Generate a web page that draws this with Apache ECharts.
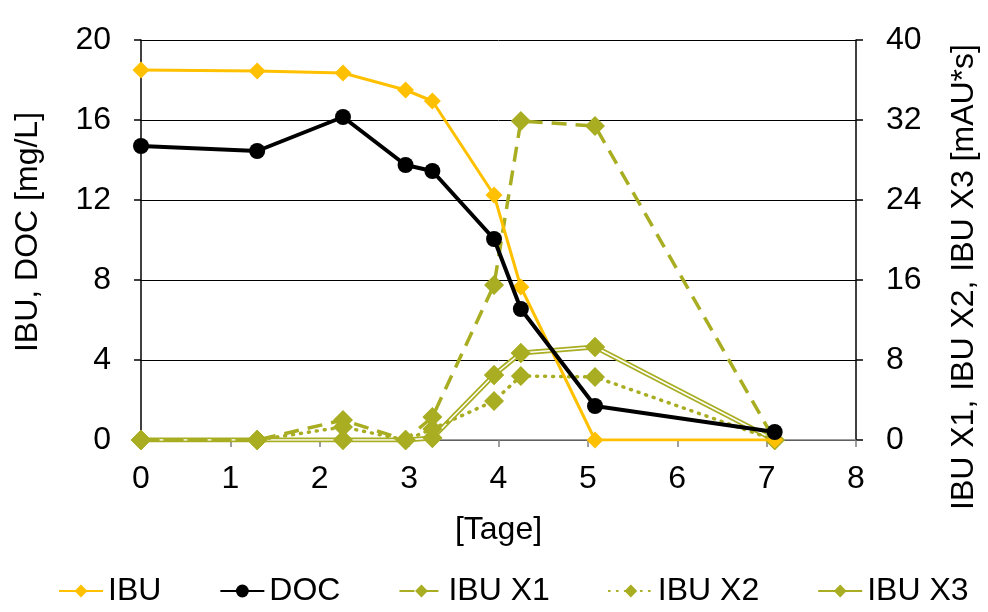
<!DOCTYPE html>
<html><head><meta charset="utf-8">
<script src="https://cdn.jsdelivr.net/npm/echarts@6/dist/echarts.min.js"></script>
<style>html,body{margin:0;padding:0;background:#fff}#c{width:988px;height:612px}</style>
</head><body><div id="c"></div>
<script>
var days = [0, 1.3, 2.26, 2.96, 3.26, 3.95, 4.25, 5.08, 7.09];
var ibu  = [18.5, 18.45, 18.35, 17.5, 16.95, 12.25, 7.65, 0, 0];
var doc  = [14.7, 14.45, 16.15, 13.75, 13.45, 10.05, 6.55, 1.7, 0.4];
var ibuX1 = [0, 0, 2.0, 0, 2.3, 15.5, 31.9, 31.4, 0];
var ibuX2 = [0, 0, 1.3, 0, 1.1, 3.9, 6.4, 6.3, 0];
var ibuX3 = [0, 0, 0, 0, 0.2, 6.5, 8.7, 9.3, 0];
var leftTicks = [0, 4, 8, 12, 16, 20];
var rightTicks = [0, 8, 16, 24, 32, 40];
var xTicks = [0, 1, 2, 3, 4, 5, 6, 7, 8];

function pairs(ys){ return days.map(function(d,i){ return [d, ys[i]]; }); }
var olive = '#A8AD22';
var font = 'Liberation Sans, Arial, sans-serif';
var FS = 32;

var chart = echarts.init(document.getElementById('c'));
chart.setOption({
  animation: false,
  textStyle: {fontFamily: font, color: '#000'},
  grid: {left: 141, right: 132, top: 40, bottom: 172},
  legend: {
    data: ['IBU', 'DOC', 'IBU X1', 'IBU X2', 'IBU X3'],
    left: 53, top: 570, itemWidth: 44, itemHeight: 16, itemGap: 58,
    textStyle: {fontSize: FS, color: '#000', fontFamily: font}
  },
  xAxis: {
    type: 'value', min: xTicks[0], max: xTicks[xTicks.length-1], interval: 1,
    name: '[Tage]', nameLocation: 'middle', nameGap: 74,
    nameTextStyle: {fontSize: FS, color: '#000'},
    axisLine: {show: true, lineStyle: {color: '#7f7f7f', width: 1.5}},
    axisTick: {show: true, inside: false, length: 7, lineStyle: {color: '#7f7f7f', width: 1.5}},
    axisLabel: {fontSize: FS, color: '#000', margin: 23},
    splitLine: {show: false}
  },
  yAxis: [{
    type: 'value', min: leftTicks[0], max: leftTicks[leftTicks.length-1], interval: 4,
    name: 'IBU, DOC [mg/L]', nameLocation: 'middle', nameGap: 97, nameRotate: 90,
    nameTextStyle: {fontSize: FS, color: '#000', padding: [0, 0, 0, 16]},
    axisLine: {show: true, lineStyle: {color: '#000', width: 1.5}},
    axisTick: {show: true, length: 7, lineStyle: {color: '#000', width: 1.5}},
    axisLabel: {fontSize: FS, color: '#000', margin: 30},
    splitLine: {show: true, lineStyle: {color: '#000', width: 1}}
  }, {
    type: 'value', min: rightTicks[0], max: rightTicks[rightTicks.length-1], interval: 8,
    name: 'IBU X1, IBU X2, IBU X3 [mAU*s]', nameLocation: 'middle', nameGap: 92, nameRotate: 90,
    nameTextStyle: {fontSize: FS, color: '#000', padding: [0, 74, 0, 0]},
    axisLine: {show: true, lineStyle: {color: '#000', width: 1.5}},
    axisTick: {show: true, length: 7, lineStyle: {color: '#000', width: 1.5}},
    axisLabel: {fontSize: FS, color: '#000', margin: 30},
    splitLine: {show: false}
  }],
  series: [
    {name: 'IBU X3', type: 'line', yAxisIndex: 1, data: pairs(ibuX3), z: 2,
     symbol: 'diamond', symbolSize: 20, itemStyle: {color: olive},
     lineStyle: {color: olive, width: 5}},
    {name: 'x3inner', type: 'line', yAxisIndex: 1, data: pairs(ibuX3), z: 3,
     showSymbol: false, symbol: 'none', silent: true,
     lineStyle: {color: '#fff', width: 1.6}},
    {name: 'x3sym', type: 'line', yAxisIndex: 1, data: pairs(ibuX3), z: 4,
     symbol: 'diamond', symbolSize: 20, itemStyle: {color: olive},
     lineStyle: {width: 0, opacity: 0}},
    {name: 'IBU X2', type: 'line', yAxisIndex: 1, data: pairs(ibuX2), z: 5,
     symbol: 'diamond', symbolSize: 20, itemStyle: {color: olive},
     lineStyle: {color: olive, width: 3.5, type: [1, 7], cap: 'round'}},
    {name: 'IBU X1', type: 'line', yAxisIndex: 1, data: pairs(ibuX1), z: 6,
     symbol: 'diamond', symbolSize: 20, itemStyle: {color: olive},
     lineStyle: {color: olive, width: 3.5, type: [15, 9]}},
    {name: 'IBU', type: 'line', yAxisIndex: 0, data: pairs(ibu), z: 7,
     symbol: 'diamond', symbolSize: 17, itemStyle: {color: '#FFC000'},
     lineStyle: {color: '#FFC000', width: 3}},
    {name: 'DOC', type: 'line', yAxisIndex: 0, data: pairs(doc), z: 8,
     symbol: 'circle', symbolSize: 16, itemStyle: {color: '#000'},
     lineStyle: {color: '#000', width: 4}}
  ]
});
</script>
</body></html>
